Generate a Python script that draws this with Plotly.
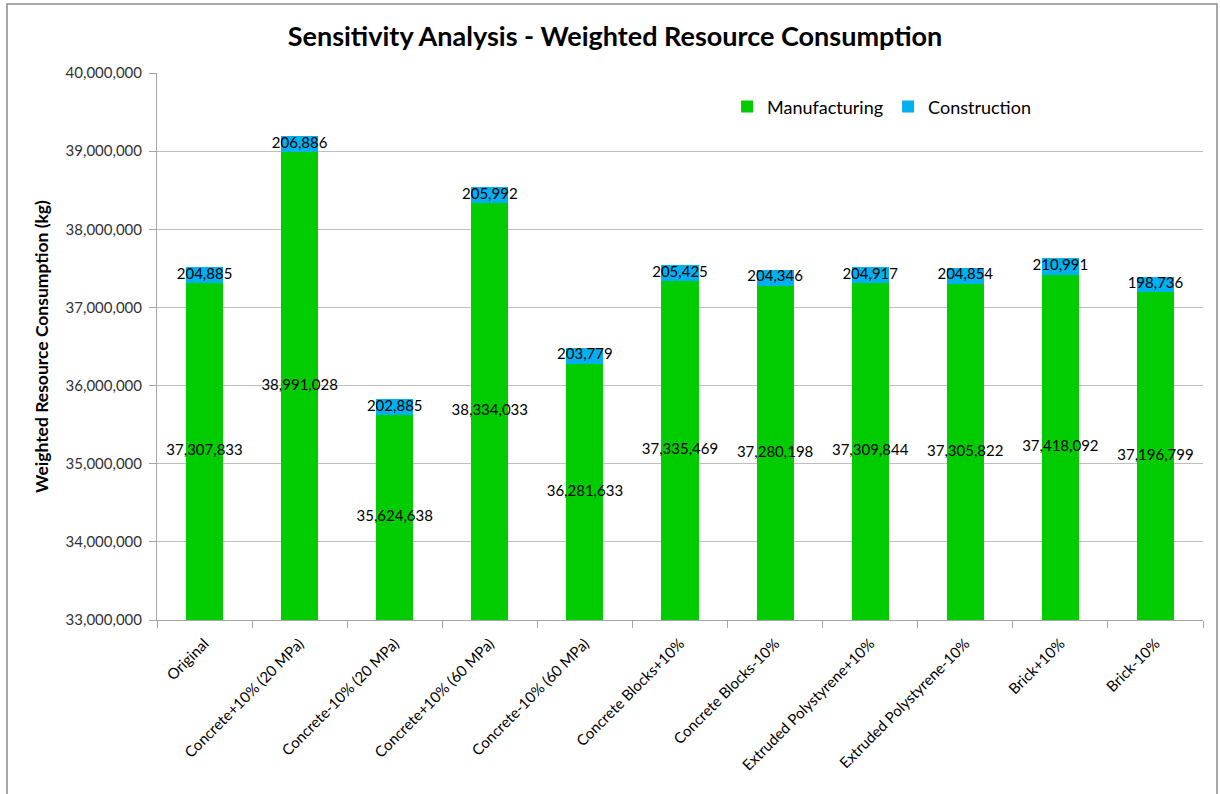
import plotly.graph_objects as go

categories = [
    "Original",
    "Concrete+10% (20 MPa)",
    "Concrete-10% (20 MPa)",
    "Concrete+10% (60 MPa)",
    "Concrete-10% (60 MPa)",
    "Concrete Blocks+10%",
    "Concrete Blocks-10%",
    "Extruded Polystyrene+10%",
    "Extruded Polystyrene-10%",
    "Brick+10%",
    "Brick-10%",
]
manufacturing = [37307833, 38991028, 35624638, 38334033, 36281633, 37335469,
                 37280198, 37309844, 37305822, 37418092, 37196799]
construction = [204885, 206886, 202885, 205992, 203779, 205425,
                204346, 204917, 204854, 210991, 198736]
y_min, y_max = 33000000, 40000000

FONT = "Lato"
GREEN = "#00CC00"
BLUE = "#00B0F0"

fig = go.Figure()
fig.add_trace(go.Bar(x=categories, y=manufacturing, name="Manufacturing",
                     marker=dict(color=GREEN, line=dict(width=0)), width=0.39))
fig.add_trace(go.Bar(x=categories, y=construction, name="Construction",
                     marker=dict(color=BLUE, line=dict(width=0)), width=0.39))

# value labels centred on the visible part of each segment
fmt = lambda v: f"{v:,}"
fig.add_trace(go.Scatter(
    x=categories, y=[(y_min + m) / 2 for m in manufacturing],
    mode="text", text=[fmt(m) for m in manufacturing],
    textfont=dict(family=FONT, size=15, color="#000000"),
    showlegend=False, hoverinfo="skip", cliponaxis=False))
fig.add_trace(go.Scatter(
    x=categories, y=[m + c / 2 for m, c in zip(manufacturing, construction)],
    mode="text", text=[fmt(c) for c in construction],
    textfont=dict(family=FONT, size=15, color="#000000"),
    showlegend=False, hoverinfo="skip", cliponaxis=False))

fig.update_layout(
    barmode="stack",
    width=1220, height=794,
    margin=dict(l=157, r=17, t=73, b=174),
    paper_bgcolor="white", plot_bgcolor="white",
    font=dict(family=FONT, color="#000000"),
    title=dict(text="<b>Sensitivity Analysis - Weighted Resource Consumption</b>",
               x=615 / 1220, xref="container", xanchor="center",
               y=1 - 37 / 794, yanchor="middle",
               font=dict(family=FONT, size=27, color="#000000")),
    legend=dict(orientation="h", x=0.545, xanchor="left", y=0.938, yanchor="middle",
                font=dict(family=FONT, size=18, color="#000000"),
                bgcolor="rgba(0,0,0,0)", itemwidth=30, traceorder="normal"),
    showlegend=True,
)
fig.update_xaxes(
    type="category", range=[-0.5, len(categories) - 0.5],
    tickangle=-45, tickson="boundaries",
    ticks="outside", ticklen=7, tickcolor="#A6A6A6",
    showline=True, linecolor="#A6A6A6", linewidth=1,
    tickfont=dict(family=FONT, size=15, color="#000000"),
    ticklabelstandoff=8,
    showgrid=False,
)
fig.update_yaxes(
    range=[y_min, y_max], dtick=1000000, tickformat=",d",
    ticks="outside", ticklen=7, tickcolor="#A6A6A6",
    showline=True, linecolor="#A6A6A6", linewidth=1,
    showgrid=True, gridcolor="#BFBFBF", gridwidth=1,
    tickfont=dict(family=FONT, size=15, color="#333333"),
    ticklabelstandoff=4,
    title=dict(text="<b>Weighted Resource Consumption (kg)</b>",
               font=dict(family=FONT, size=17.5, color="#000000"), standoff=12),
)

# outer chart frame
fig.add_shape(type="rect", xref="paper", yref="paper",
              x0=(7 - 157) / 1046, x1=(1217 - 157) / 1046,
              y0=(620 - 800) / 547, y1=(620 - 4) / 547,
              line=dict(color="#8C8C8C", width=1.5), layer="below")

fig.write_html("out.html")
